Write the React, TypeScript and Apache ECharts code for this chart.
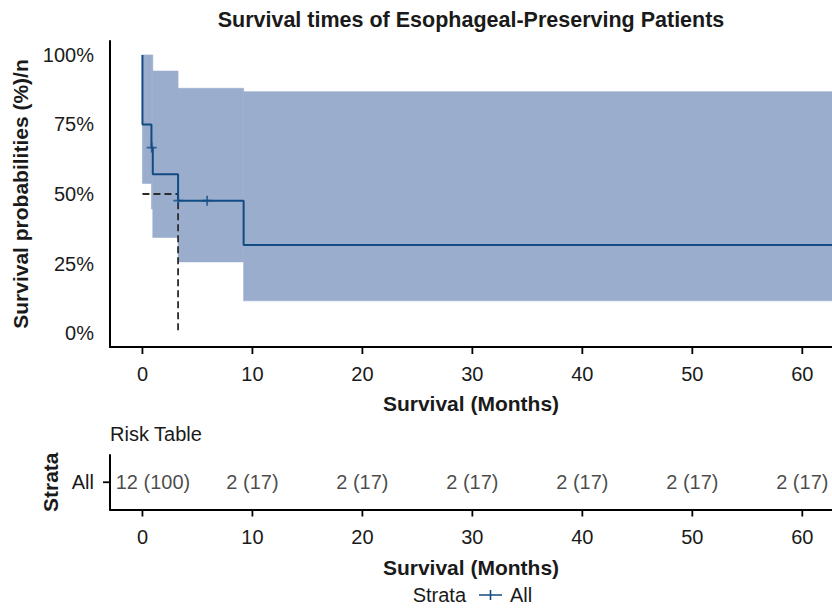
import React, { useEffect, useRef } from 'react';
import * as echarts from 'echarts';

const titleText = 'Survival times of Esophageal-Preserving Patients';
const startSurvival = 100;
const eventTimes = [0, 0.82, 0.94, 3.24, 9.2];
const survivalAfter = [75, 66.7, 57.1, 47.6, 31.7];
const lastTime = 63;
const censorTimes = [0.84, 3.26, 5.88];
const censorSurvival = [66.7, 47.6, 47.6];
const bandStart = [0, 0.82, 0.94, 3.24, 9.2];
const bandEnd = [0.82, 0.94, 3.24, 9.2, 63];
const bandLower = [53.8, 44.6, 34.4, 25.6, 11.6];
const bandUpper = [100, 100, 94.2, 88.0, 86.8];
const medianTime = 3.24;
const medianSurvival = 50;
const xTicks = [0, 10, 20, 30, 40, 50, 60];
const yTicks = [0, 25, 50, 75, 100];
const strata = ['All'];
const riskTimes = [0, 10, 20, 30, 40, 50, 60];
const riskLabels = ['12 (100)', '2 (17)', '2 (17)', '2 (17)', '2 (17)', '2 (17)', '2 (17)'];

const X_MIN = -2.95;
const X_MAX = 62.7;
const Y_MIN = -5;
const Y_MAX = 105;

const FONT = '"Liberation Sans", Arial, Helvetica, sans-serif';
const TEXT = '#1a1a1a';
const LINE = '#134c84';
const BAND = '#9badcc';
const CROSS = 'path://M-0.17,-1H0.17V-0.17H1V0.17H0.17V1H-0.17V0.17H-1V-0.17H-0.17Z';
const LEGEND_ICON = 'path://M0,4.2H23V5.8H0Z M10.7,0H12.3V10H10.7Z';
const TICK_LEN = 7;
const TICK_W = 1.8;
const GRIDS = [
  { left: 110, right: 0, top: 41, height: 306 },
  { left: 110, right: 0, top: 455, height: 54.5 },
];
const CHART_W = 832;

function buildSteps(): number[][] {
  const pts: number[][] = [[0, startSurvival]];
  let prev = startSurvival;
  eventTimes.forEach((t, i) => {
    pts.push([t, prev]);
    pts.push([t, survivalAfter[i]]);
    prev = survivalAfter[i];
  });
  pts.push([lastTime, prev]);
  return pts;
}

// tick segments for the main plot expressed in data units
function mainTickData(): any[] {
  const dy = (TICK_LEN * (Y_MAX - Y_MIN)) / GRIDS[0].height;
  const gw = CHART_W - GRIDS[0].left - GRIDS[0].right;
  const dx = (TICK_LEN * (X_MAX - X_MIN)) / gw;
  const out: any[] = [];
  xTicks.forEach((v) => {
    out.push([v, Y_MIN], [v, Y_MIN - dy], '-');
  });
  yTicks.forEach((v) => {
    out.push([X_MIN, v], [X_MIN - dx, v], '-');
  });
  return out;
}

export default function App() {
  const ref = useRef<HTMLDivElement>(null);
  useEffect(() => {
    document.body.style.margin = '0';
    if (!ref.current) return;
    const chart = echarts.init(ref.current, null, { renderer: 'svg' });
    const labelStyle = { fontSize: 20, color: TEXT, fontFamily: FONT };
    const nameStyle = { fontSize: 21, fontWeight: 'bold' as const, color: TEXT, fontFamily: FONT };
    const mkAxisLine = () => ({ show: true, onZero: false, lineStyle: { color: '#000', width: 2 } });
    const xAxisBase = (gridIndex: number, nameGap: number) => ({
      gridIndex,
      type: 'value' as const,
      min: X_MIN,
      max: X_MAX,
      axisLine: mkAxisLine(),
      axisTick: { show: false },
      axisLabel: { customValues: xTicks, margin: 17, ...labelStyle },
      splitLine: { show: false },
      name: 'Survival (Months)',
      nameLocation: 'middle' as const,
      nameGap,
      nameTextStyle: nameStyle,
    });

    const texts: any[] = [
      {
        type: 'text',
        left: 110,
        top: 424,
        style: { text: 'Risk Table', fontSize: 20, fill: TEXT, fontFamily: FONT },
      },
      {
        type: 'text',
        right: 832 - 466,
        top: 585,
        style: { text: 'Strata', fontSize: 20, fill: TEXT, fontFamily: FONT },
      },
    ];

    const option: any = {
      animation: false,
      backgroundColor: '#fff',
      title: {
        text: titleText,
        left: 471,
        top: 9,
        textAlign: 'center',
        padding: 0,
        textStyle: { fontSize: 21.5, fontWeight: 'bold', color: TEXT, fontFamily: FONT },
      },
      legend: {
        data: ['All'],
        left: 479,
        top: 585,
        padding: 0,
        icon: LEGEND_ICON,
        itemWidth: 23,
        itemHeight: 10,
        textStyle: { fontSize: 20, color: TEXT, fontFamily: FONT, padding: [0, 0, 0, 3] },
        selectedMode: false,
      },
      graphic: { elements: texts },
      grid: GRIDS,
      xAxis: [xAxisBase(0, 46), xAxisBase(1, 47)],
      yAxis: [
        {
          gridIndex: 0,
          type: 'value',
          min: Y_MIN,
          max: Y_MAX,
          axisLine: mkAxisLine(),
          axisTick: { show: false },
          axisLabel: { customValues: yTicks, margin: 16, formatter: (v: number) => v + '%', ...labelStyle },
          splitLine: { show: false },
          name: 'Survival probabilities (%)/n',
          nameLocation: 'middle',
          nameGap: 79,
          nameTextStyle: nameStyle,
        },
        {
          gridIndex: 1,
          type: 'category',
          data: strata,
          axisLine: mkAxisLine(),
          axisTick: { show: false },
          axisLabel: { margin: 16, ...labelStyle },
          name: 'Strata',
          nameLocation: 'middle',
          nameGap: 48,
          nameTextStyle: nameStyle,
        },
      ],
      series: [
        {
          type: 'custom',
          name: 'CI',
          xAxisIndex: 0,
          yAxisIndex: 0,
          clip: true,
          encode: { x: [0, 1], y: [2, 3] },
          data: bandStart.map((s, i) => [s, bandEnd[i], bandLower[i], bandUpper[i]]),
          renderItem: (params: any, api: any) => {
            const p0 = api.coord([api.value(0), api.value(3)]);
            const p1 = api.coord([api.value(1), api.value(2)]);
            return {
              type: 'rect',
              shape: { x: p0[0], y: p0[1], width: p1[0] - p0[0], height: p1[1] - p0[1] },
              style: { fill: BAND, stroke: BAND, lineWidth: 0.6 },
            };
          },
          z: 1,
        },
        {
          type: 'line',
          name: 'median',
          xAxisIndex: 0,
          yAxisIndex: 0,
          data: [[0, medianSurvival], [medianTime, medianSurvival], [medianTime, 0]],
          symbol: 'none',
          lineStyle: { color: '#2b2b2b', width: 1.8, type: [7, 4] },
          z: 2,
        },
        {
          type: 'line',
          name: 'All',
          xAxisIndex: 0,
          yAxisIndex: 0,
          data: buildSteps(),
          symbol: 'none',
          clip: true,
          color: LINE,
          lineStyle: { color: LINE, width: 2 },
          z: 3,
        },
        {
          type: 'line',
          name: 'tickmarks',
          xAxisIndex: 0,
          yAxisIndex: 0,
          data: mainTickData(),
          symbol: 'none',
          clip: false,
          connectNulls: false,
          silent: true,
          lineStyle: { color: '#000', width: TICK_W },
          z: 6,
        },
        {
          type: 'scatter',
          name: 'censor',
          xAxisIndex: 0,
          yAxisIndex: 0,
          data: censorTimes.map((t, i) => [t, censorSurvival[i]]),
          symbol: CROSS,
          symbolSize: 10,
          itemStyle: { color: LINE },
          z: 4,
        },
        {
          type: 'scatter',
          name: 'risk',
          xAxisIndex: 1,
          yAxisIndex: 1,
          symbolSize: 0,
          data: riskTimes.map((t, i) => ({
            value: [t, strata[0]],
            label: i === 0 ? { offset: [10.5, 0] } : undefined,
          })),
          label: {
            show: true,
            position: 'inside',
            formatter: (p: any) => riskLabels[p.dataIndex],
            ...labelStyle,
          },
          z: 4,
        },
      ],
    };
    chart.setOption(option);

    // Risk-table tick marks positioned through the axes' own scales
    const ticks: any[] = [];
    try {
      const g = GRIDS[1];
      const yb = g.top + g.height;
      xTicks.forEach((v) => {
        const px = Number(chart.convertToPixel({ xAxisIndex: 1 }, v));
        if (!isFinite(px)) return;
        ticks.push({
          type: 'line',
          silent: true,
          z: 100,
          shape: { x1: px, y1: yb, x2: px, y2: yb + TICK_LEN },
          style: { stroke: '#000', lineWidth: TICK_W },
        });
      });
      strata.forEach((s, si) => {
        let py = Number(chart.convertToPixel({ yAxisIndex: 1 }, s));
        if (!isFinite(py)) py = Number(chart.convertToPixel({ yAxisIndex: 1 }, si));
        if (!isFinite(py)) return;
        ticks.push({
          type: 'line',
          silent: true,
          z: 100,
          shape: { x1: g.left, y1: py, x2: g.left - TICK_LEN, y2: py },
          style: { stroke: '#000', lineWidth: TICK_W },
        });
      });
      chart.setOption({ graphic: { elements: [...texts, ...ticks] } });
    } catch (e) {
      // keep chart without the extra ticks
    }

    return () => chart.dispose();
  }, []);
  return <div ref={ref} style={{ width: 832, height: 611 }} />;
}
